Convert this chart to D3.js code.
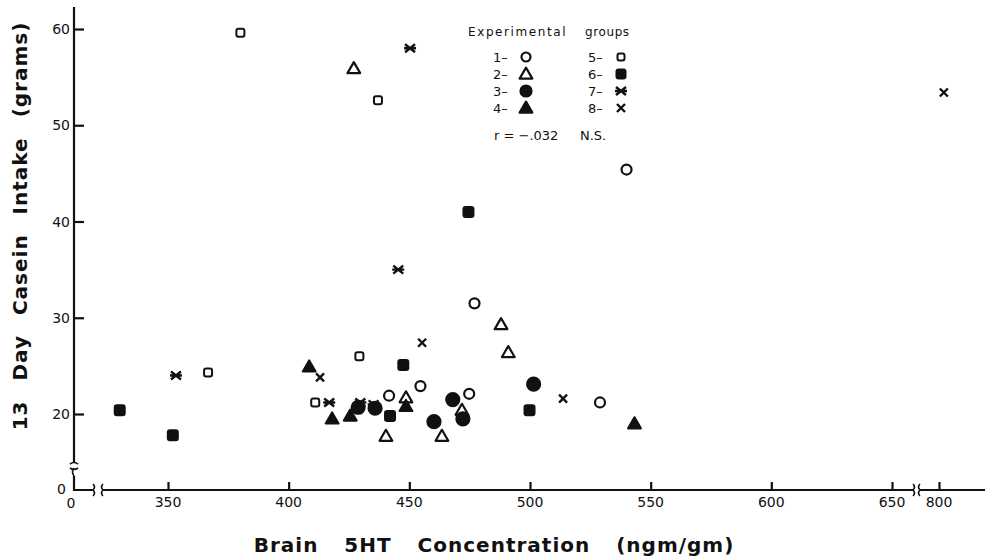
<!DOCTYPE html>
<html>
<head>
<meta charset="utf-8">
<script src="https://cdn.jsdelivr.net/npm/d3@7"></script>
<style>
  html, body { margin: 0; padding: 0; background: #fff; }
  svg { display: block; }
  text { font-family: "DejaVu Sans", "Liberation Sans", sans-serif; fill: #111; }
</style>
</head>
<body>
<svg id="chart" width="985" height="556"></svg>
<script>
// Brain 5HT concentration (ngm/gm) vs 13-day casein intake (grams), per experimental group
const group1 = [[540, 45.4], [477, 31.5], [454.6, 22.9], [441.6, 21.9], [474.8, 22.1], [529, 21.2]];
const group2 = [[427, 55.9], [488, 29.3], [491, 26.4], [448.6, 21.7], [471.8, 20.4], [440.3, 17.7], [463.5, 17.7]];
const group3 = [[501.5, 23.1], [468, 21.5], [472.2, 19.5], [460.2, 19.2], [428.8, 20.7], [435.8, 20.6]];
const group4 = [[408.5, 24.9], [418, 19.5], [425.5, 19.8], [448.6, 20.8], [543.3, 19.0]];
const group5 = [[380, 59.6], [437, 52.6], [429.3, 26.0], [366.6, 24.3], [411, 21.2]];
const group6 = [[330, 20.4], [352, 17.8], [447.5, 25.1], [442, 19.8], [499.8, 20.4], [474.5, 41.0]];
const group7 = [[450.3, 58.0], [445.4, 35.0], [353.3, 24.0], [416.8, 21.2], [429.7, 21.2], [435.2, 21.0]];
const group8 = [[802, 53.4], [455.3, 27.4], [413, 23.8], [513.7, 21.6]];

const xTicks = [350, 400, 450, 500, 550, 600, 650];
const xTicksHigh = [800];
const yTicks = [20, 30, 40, 50, 60];
const legendLabels = ["1", "2", "3", "4", "5", "6", "7", "8"];
const statText = "r = \u2212.032";
const statSig = "N.S.";

const svg = d3.select("#chart");

// scales: main x segment, broken-off segment for the 800 value, and y
const x = d3.scaleLinear().domain([350, 650]).range([168, 892]);
const pxPerUnit = (892 - 168) / 300;
const x2 = d3.scaleLinear().domain([790, 810]).range([939 - 10 * pxPerUnit, 939 + 10 * pxPerUnit]);
const y = d3.scaleLinear().domain([20, 60]).range([414, 29]);
const xOf = v => v > 700 ? x2(v) : x(v);

const axisY = 490, axisX = 74;
const ink = "#111";

// y axis with break near zero
const yAxisG = svg.append("g").attr("transform", `translate(${axisX},0)`);
const yAxis = d3.axisRight(y).tickValues(yTicks).tickSize(10).tickFormat("");
yAxisG.call(yAxis);
yAxisG.select(".domain").remove();
yAxisG.selectAll(".tick line").attr("stroke", ink).attr("stroke-width", 2.2);
svg.append("g").selectAll("text").data(yTicks).join("text")
  .attr("x", axisX - 4).attr("y", d => y(d) + 5)
  .attr("text-anchor", "end").attr("font-size", 14).text(d => d);

svg.append("path").attr("fill", "none").attr("stroke", ink).attr("stroke-width", 2.2)
  .attr("d", `M${axisX},7 L${axisX},463 M${axisX},476 L${axisX},${axisY} L93,${axisY}`);
// break marks on y axis
svg.append("path").attr("fill", "none").attr("stroke", ink).attr("stroke-width", 1.6)
  .attr("d", `M${axisX - 4},464 q4,-3 8,0 M${axisX - 4},468 q4,3 8,0 M${axisX},468 q-3,4 0,8`);

// x axis segments with breaks
svg.append("path").attr("fill", "none").attr("stroke", ink).attr("stroke-width", 2.2)
  .attr("d", `M103,${axisY} L913,${axisY} M920,${axisY} L985,${axisY}`);
svg.append("path").attr("fill", "none").attr("stroke", ink).attr("stroke-width", 1.6)
  .attr("d", `M93,${axisY} q3,-3 0,-6 M93,${axisY} q3,3 0,6 M103,${axisY} q-3,-3 0,-6 M103,${axisY} q-3,3 0,6` +
             ` M913,${axisY} q3,-3 0,-6 M913,${axisY} q3,3 0,6 M920,${axisY} q-3,-3 0,-6 M920,${axisY} q-3,3 0,6`);

const xAxisG = svg.append("g").attr("transform", `translate(0,${axisY})`);
xAxisG.call(d3.axisTop(x).tickValues(xTicks).tickSize(8).tickFormat(""));
xAxisG.select(".domain").remove();
const xAxisG2 = svg.append("g").attr("transform", `translate(0,${axisY})`);
xAxisG2.call(d3.axisTop(x2).tickValues(xTicksHigh).tickSize(8).tickFormat(""));
xAxisG2.select(".domain").remove();
svg.selectAll(".tick line").attr("stroke", ink).attr("stroke-width", 2.2);

svg.append("g").selectAll("text").data(xTicks.concat(xTicksHigh)).join("text")
  .attr("x", d => xOf(d)).attr("y", axisY + 17)
  .attr("text-anchor", "middle").attr("font-size", 14).text(d => d);

// zero labels at the origin
svg.append("text").attr("x", 66).attr("y", axisY + 4).attr("text-anchor", "end").attr("font-size", 14).text("0");
svg.append("text").attr("x", 71).attr("y", axisY + 18).attr("text-anchor", "middle").attr("font-size", 14).text("0");

// axis titles
svg.append("text").attr("x", 494).attr("y", 552).attr("text-anchor", "middle")
  .attr("font-size", 20).attr("font-weight", "bold").attr("word-spacing", 18).attr("letter-spacing", 1)
  .text("Brain 5HT Concentration (ngm/gm)");
svg.append("text").attr("transform", "translate(27,226) rotate(-90)").attr("text-anchor", "middle")
  .attr("font-size", 20).attr("font-weight", "bold").attr("word-spacing", 12).attr("letter-spacing", 1)
  .text("13 Day Casein Intake (grams)");

// marker drawing
const tri = d3.symbol().type(d3.symbolTriangle).size(70)();
const star = "M-5,-4L5,4M-5,4L5,-4M-6,0L6,0";
const times = "M-4,-4L4,4M-4,4L4,-4";
const styles = [
  { kind: "circle", fill: "#fff", r: 5 },
  { kind: "path", d: tri, fill: "#fff" },
  { kind: "circle", fill: ink, r: 6.5 },
  { kind: "path", d: tri, fill: ink },
  { kind: "rect", fill: "#fff", s: 8 },
  { kind: "rect", fill: ink, s: 10 },
  { kind: "stroke", d: star },
  { kind: "stroke", d: times }
];

function drawMarker(g, st) {
  if (st.kind === "circle") {
    g.append("circle").attr("r", st.r).attr("fill", st.fill).attr("stroke", ink).attr("stroke-width", 2.2);
  } else if (st.kind === "rect") {
    g.append("rect").attr("x", -st.s / 2).attr("y", -st.s / 2).attr("width", st.s).attr("height", st.s)
      .attr("rx", 2).attr("fill", st.fill).attr("stroke", ink).attr("stroke-width", 2);
  } else if (st.kind === "path") {
    g.append("path").attr("d", st.d).attr("fill", st.fill).attr("stroke", ink).attr("stroke-width", 2.2)
      .attr("stroke-linejoin", "round").attr("transform", "translate(0,1)");
  } else {
    g.append("path").attr("d", st.d).attr("fill", "none").attr("stroke", ink).attr("stroke-width", 2.4);
  }
}

const groups = [group1, group2, group3, group4, group5, group6, group7, group8];
groups.forEach((grp, i) => {
  svg.append("g").selectAll("g").data(grp).join("g")
    .attr("transform", d => `translate(${xOf(d[0])},${y(d[1])})`)
    .each(function () { drawMarker(d3.select(this), styles[i]); });
});

// legend
const lg = svg.append("g");
lg.append("text").attr("x", 468).attr("y", 36).attr("font-size", 12).attr("letter-spacing", 1.6).text("Experimental");
lg.append("text").attr("x", 585).attr("y", 36).attr("font-size", 12).attr("letter-spacing", 0.6).text("groups");
legendLabels.forEach((lab, i) => {
  const col = i < 4 ? 0 : 1, row = i % 4;
  const lx = col === 0 ? 493 : 588, ly = 62 + row * 17;
  lg.append("text").attr("x", lx).attr("y", ly).attr("font-size", 13).text(lab + "\u2013");
  const mg = lg.append("g").attr("transform", `translate(${lx + 33},${ly - 5})`);
  const st = Object.assign({}, styles[i]);
  if (st.kind === "circle") st.r = st.fill === ink ? 5.5 : 4.5;
  if (st.kind === "rect") st.s = st.fill === ink ? 9 : 7;
  drawMarker(mg, st);
});
lg.append("text").attr("x", 494).attr("y", 140).attr("font-size", 13).text(statText);
lg.append("text").attr("x", 580).attr("y", 140).attr("font-size", 13).text(statSig);
</script>
</body>
</html>
